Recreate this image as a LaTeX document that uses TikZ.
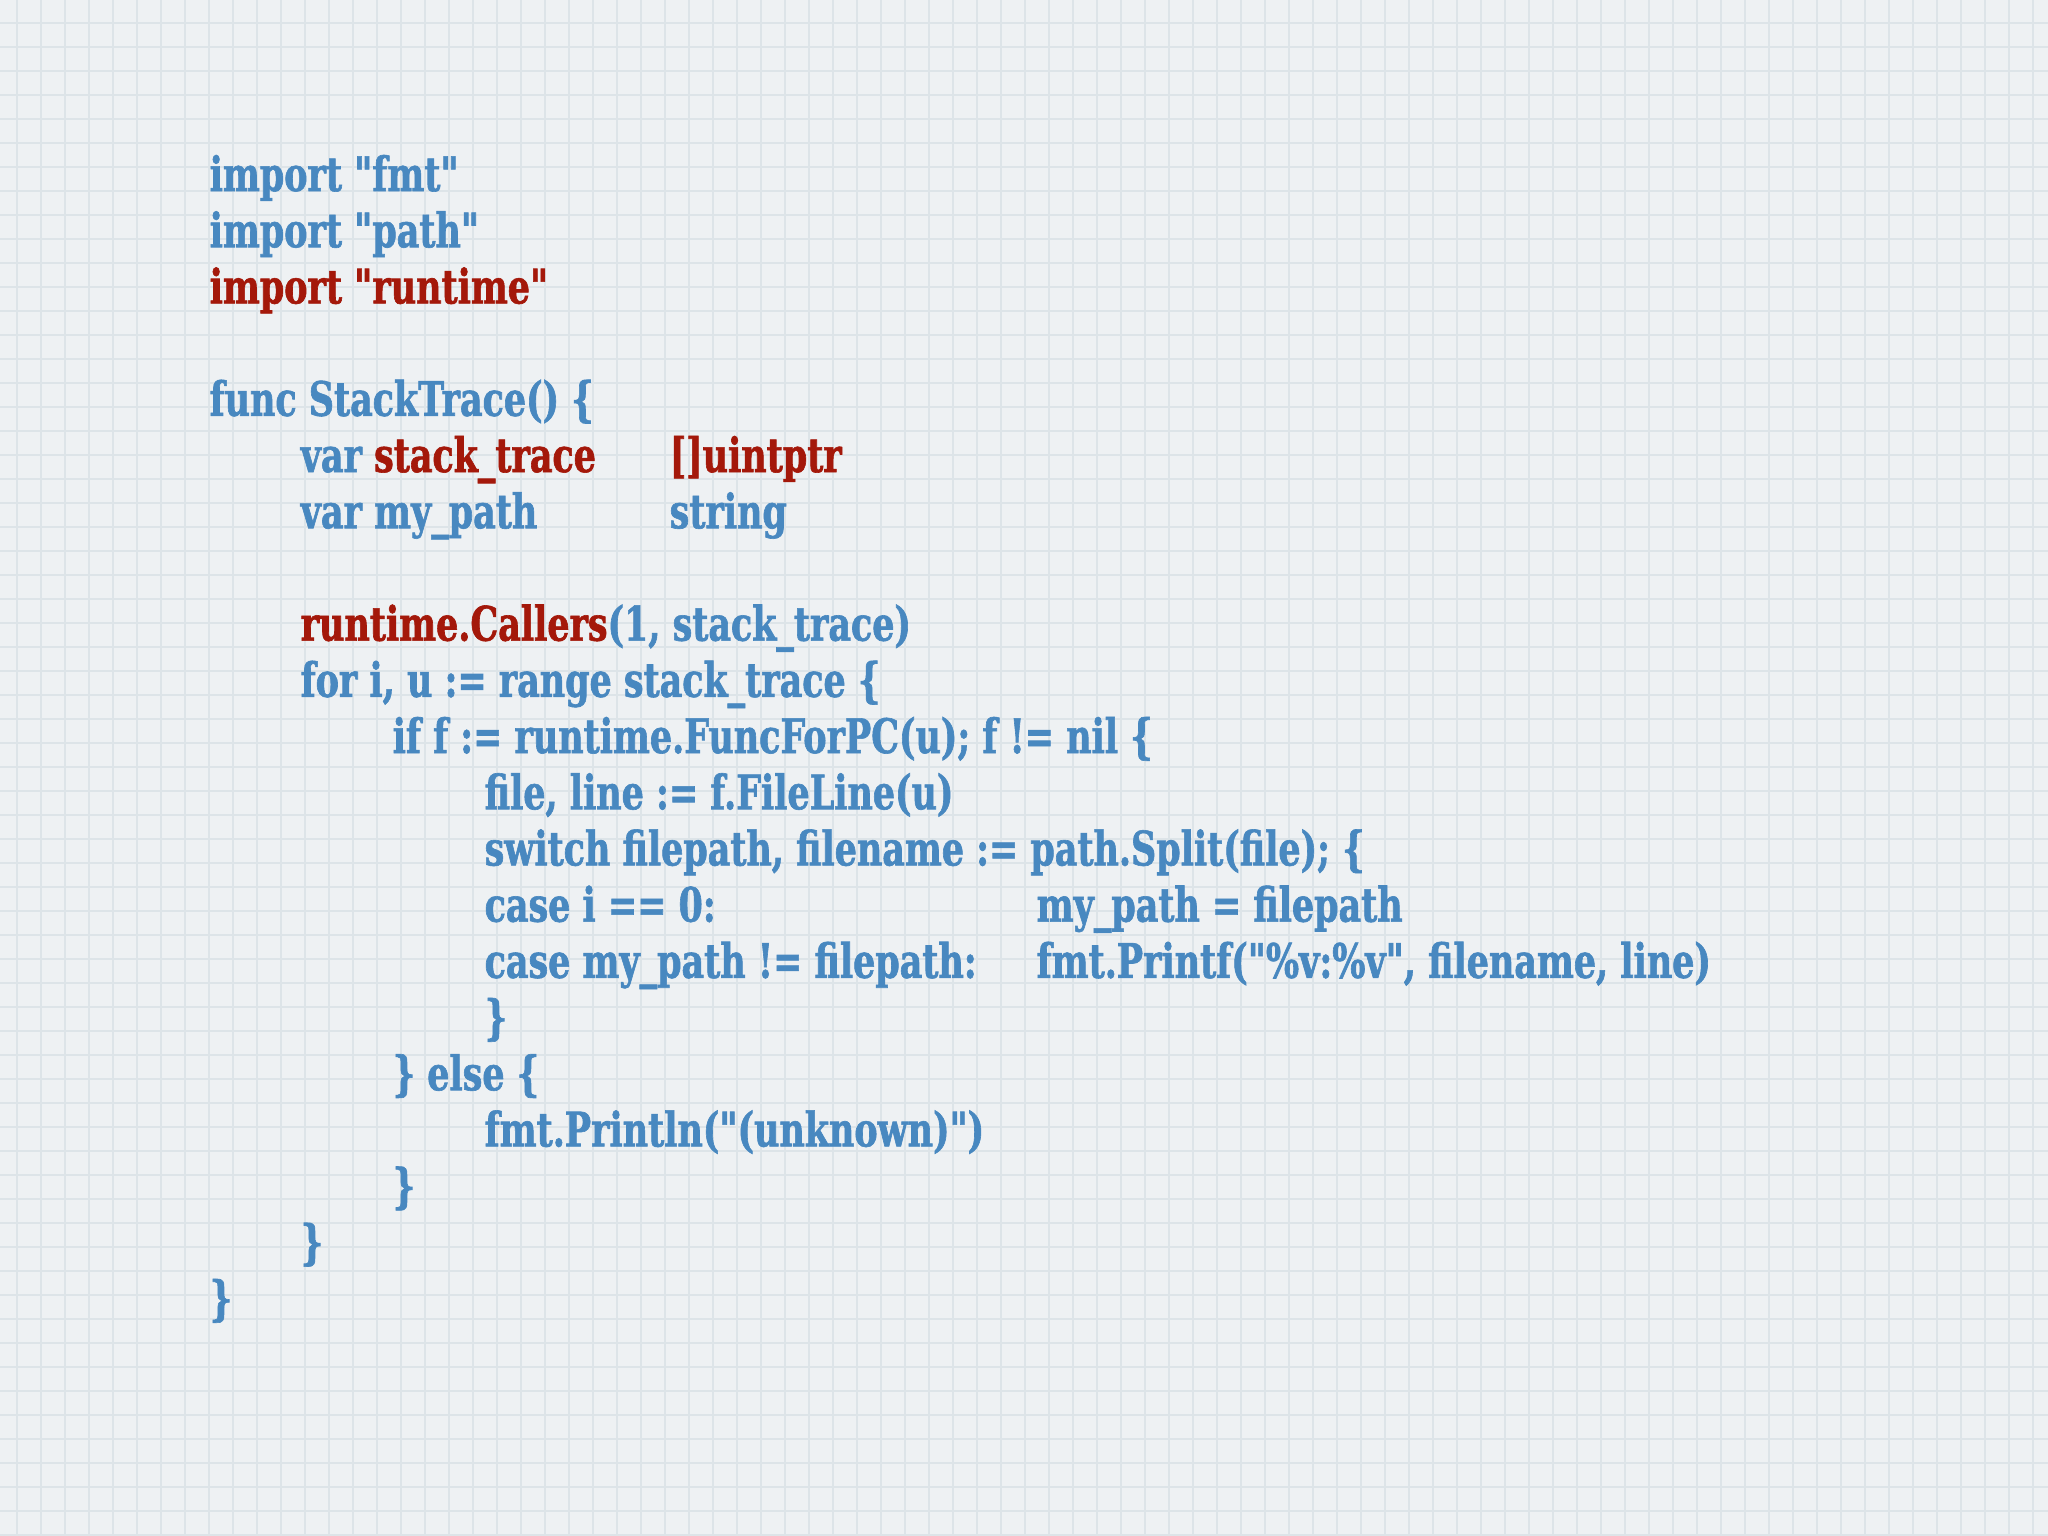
\documentclass[tikz,border=0pt]{standalone}
\usepackage{fontspec}
\setmainfont{DejaVu Serif}[FakeStretch=0.735, FakeBold=1.3, Ligatures=TeXOff]
\usepackage{xcolor}
\usetikzlibrary{positioning}
\definecolor{codeblue}{RGB}{72,136,192}
\definecolor{codered}{RGB}{164,24,10}
\definecolor{paper}{RGB}{238,241,243}
\definecolor{gridcol}{RGB}{221,228,232}
\tikzset{
    code/.style={anchor=base west, inner sep=0pt, text=codeblue, font=\fontsize{13.5}{16}\selectfont\bfseries}
}

\begin{document}
\begin{tikzpicture}[
    x=0.01cm, y=-0.01cm,
    gridline/.style={draw=gridcol, line width=0.6pt},
    hot/.style={code, text=codered}
]
% paper and grid
\fill[paper] (0,0) rectangle (2048,1536);
\useasboundingbox (0,0) rectangle (2048,1536);
\foreach \gx in {0,...,84} {
    \draw[gridline] (17.3+24*\gx,0) -- ++(0,1536);
}
\foreach \gy in {0,...,63} {
    \draw[gridline] (0,23.3+24*\gy) -- ++(2048,0);
}

% indent levels and line pitch
\def\lA{209}
\def\lB{300}
\def\lC{392}
\def\lD{484}
\def\pitch{56.2}

% imports
\node[code] (imp1) at (\lA,191) {import "fmt"};
\node[code] (imp2) at (\lA,191+\pitch) {import "path"};
\node[hot]  (imp3) at (\lA,191+2*\pitch) {import "runtime"};

% func header and vars
\node[code] (fn) at (\lA,191+4*\pitch) {func StackTrace() \{};
\node[code] (var1) at (\lB,191+5*\pitch) {var \textcolor{codered}{stack\_trace}};
\node[hot]  (typ1) at (669,191+5*\pitch) {[]uintptr};
\node[code] (var2) at (\lB,191+6*\pitch) {var my\_path};
\node[code] (typ2) at (669,191+6*\pitch) {string};

% body
\node[code] (call) at (\lB,191+8*\pitch) {\textcolor{codered}{runtime.Callers}(1, stack\_trace)};
\node[code] (loop) at (\lB,191+9*\pitch) {for i, u := range stack\_trace \{};
\node[code] (iff) at (\lC,191+10*\pitch) {if f := runtime.FuncForPC(u); f != nil \{};
\node[code] (fl) at (\lD,191+11*\pitch) {file, line := f.FileLine(u)};
\node[code] (sw) at (\lD,191+12*\pitch) {switch filepath, filename := path.Split(file); \{};
\node[code] (case1) at (\lD,191+13*\pitch) {case i == 0:};
\node[code] (set) at (1036,191+13*\pitch) {my\_path = filepath};
\node[code] (case2) at (\lD,191+14*\pitch) {case my\_path != filepath:};
\node[code] (prt) at (1036,191+14*\pitch) {fmt.Printf("\%v:\%v", filename, line)};
\node[code] (swend) at (\lD,191+15*\pitch) {\}};
\node[code] (els) at (\lC,191+16*\pitch) {\} else \{};
\node[code] (unk) at (\lD,191+17*\pitch) {fmt.Println("(unknown)")};
\node[code] (ifend) at (\lC,191+18*\pitch) {\}};
\node[code] (loopend) at (\lB,191+19*\pitch) {\}};
\node[code] (fnend) at (\lA,191+20*\pitch) {\}};
\end{tikzpicture}
\end{document}
